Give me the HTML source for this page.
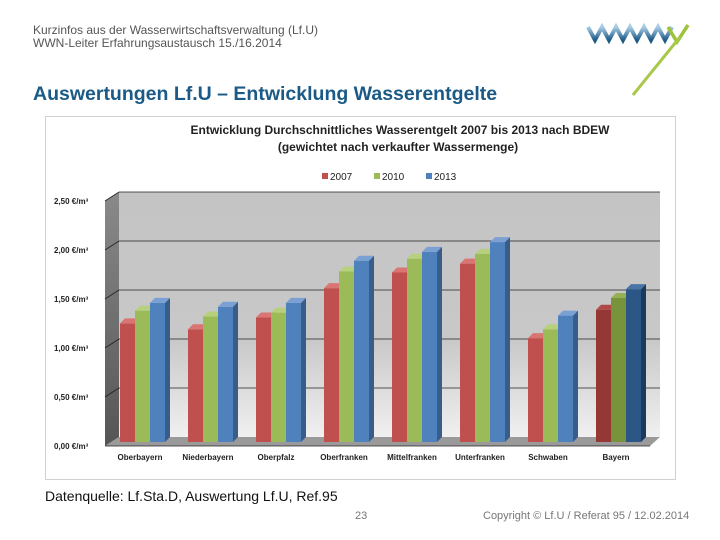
<!DOCTYPE html>
<html><head><meta charset="utf-8"><style>
body{margin:0;width:720px;height:540px;background:#fff;font-family:"Liberation Sans",sans-serif;overflow:hidden;position:relative}
.t{position:absolute;white-space:nowrap}
</style></head><body>
<div class="t" style="left:33px;top:24px;font-size:12px;color:#555;line-height:13px">Kurzinfos aus der Wasserwirtschaftsverwaltung (Lf.U)<br>WWN-Leiter Erfahrungsaustausch 15./16.2014</div>
<div class="t" style="left:33px;top:83px;font-size:19.5px;font-weight:bold;color:#1b5a86">Auswertungen Lf.U – Entwicklung Wasserentgelte</div>
<svg style="position:absolute;left:580px;top:15px" width="120" height="85">
<defs><linearGradient id="lg" x1="0" y1="0" x2="0" y2="1"><stop offset="0" stop-color="#a9cde6"/><stop offset="1" stop-color="#1e5a86"/></linearGradient></defs>
<polyline points="8,12 15,25 22,12 29,25 36,12 43,25 50,12 57,25 64,12 71,25 78,12 85,25 92,12" fill="none" stroke="url(#lg)" stroke-width="4"/>
<polyline points="88,12 97,27 108,10" fill="none" stroke="#9dc23c" stroke-width="3.5"/>
<line x1="100" y1="22" x2="53" y2="80" stroke="#a8c84a" stroke-width="3"/>
</svg>
<div style="position:absolute;left:45px;top:116px;width:629px;height:362px;border:1px solid #d0d0d0"></div>
<svg id="chart" style="position:absolute;left:0;top:0" width="720" height="540">
<defs>
<linearGradient id="wall" x1="0" y1="0" x2="0" y2="1"><stop offset="0" stop-color="#c4c4c4"/><stop offset="0.6" stop-color="#c8c8c8"/><stop offset="1" stop-color="#f0f0f0"/></linearGradient>
<linearGradient id="side" x1="0" y1="0" x2="0" y2="1"><stop offset="0" stop-color="#8a8a8a"/><stop offset="1" stop-color="#555"/></linearGradient>
</defs>
<text x="400" y="134" text-anchor="middle" font-size="12" font-weight="bold" fill="#222">Entwicklung Durchschnittliches Wasserentgelt 2007 bis 2013 nach BDEW</text>
<text x="398" y="151" text-anchor="middle" font-size="12" font-weight="bold" fill="#222">(gewichtet nach verkaufter Wassermenge)</text>
<g id="legend"></g>
<g id="plot"></g>
</svg>
<div class="t" style="left:45px;top:488px;font-size:14px;color:#111">Datenquelle: Lf.Sta.D, Auswertung Lf.U, Ref.95</div>
<div class="t" style="left:355px;top:510px;font-size:11px;color:#777">23</div>
<div class="t" style="left:483px;top:510px;font-size:11px;color:#777">Copyright © Lf.U / Referat 95 / 12.02.2014</div>
<script>
const categories=["Oberbayern","Niederbayern","Oberpfalz","Oberfranken","Mittelfranken","Unterfranken","Schwaben","Bayern"];
const series=["2007","2010","2013"];
const v2007=[1.21,1.15,1.27,1.57,1.73,1.82,1.06,1.35];
const v2010=[1.34,1.28,1.32,1.74,1.87,1.92,1.15,1.47];
const v2013=[1.42,1.38,1.42,1.85,1.94,2.04,1.29,1.56];
const ticks=[0,0.5,1,1.5,2,2.5];
const tickLabels=["0,00 €/m³","0,50 €/m³","1,00 €/m³","1,50 €/m³","2,00 €/m³","2,50 €/m³"];
const NS="http://www.w3.org/2000/svg";
const plot=document.getElementById('plot'),leg=document.getElementById('legend');
function mk(tag,a,p){const e=document.createElementNS(NS,tag);for(const k in a)e.setAttribute(k,a[k]);(p||plot).appendChild(e);return e;}
const y0=442,sc=98,bx0=119,bx1=660,by0=437;
function yF(v){return y0-v*sc;}
function yB(v){return by0-v*sc;}
function gx(i){return 120+i*68;}
let w=mk('rect',{x:bx0,y:yB(2.5),width:bx1-bx0,height:by0-yB(2.5),fill:'url(#wall)'});

let s=mk('polygon',{points:`105,${yF(2.5)+4} ${bx0},${yB(2.5)} ${bx0},${by0} 105,446`,fill:'url(#side)'});

let f=mk('polygon',{points:`105,446 ${bx0},${by0} ${bx1},${by0} 650,446`,fill:'#9a9a9a'});

ticks.forEach((t,i)=>{
 if(t>0){const l=mk('line',{x1:bx0,y1:yB(t),x2:bx1,y2:yB(t),stroke:'#222','stroke-width':0.8});
 
 const l2=mk('line',{x1:105,y1:yB(t)+9,x2:bx0,y2:yB(t),stroke:'#222','stroke-width':0.8});
 }
 const tx=mk('text',{x:54,y:yB(t)+12,'font-size':8,'font-weight':'bold',fill:'#222'});
 tx.textContent=tickLabels[i];
 
});
const ax=mk('line',{x1:105,y1:446,x2:650,y2:446,stroke:'#222','stroke-width':0.8});

const cols=[["#c0504d","#d97572","#8c3836"],["#9bbb59","#b6d07e","#71893f"],["#4f81bd","#7aa0d4","#385d8a"]];
const colsB=[["#953735","#b04a47","#6a2524"],["#77933c","#95b055","#566b2a"],["#2c5685","#4a74a6","#1c3a5c"]];
const vals=[v2007,v2010,v2013];
const bw=15,d=5;
categories.forEach((c,i)=>{
 vals.forEach((arr,k)=>{
  const cs=(i===categories.length-1?colsB:cols)[k];
  const x=gx(i)+k*bw,yt=yF(arr[i]);
  const g=mk('g',{});
  
  
  mk('polygon',{points:`${x+bw},${yt} ${x+bw+d},${yt-d} ${x+bw+d},${y0-d} ${x+bw},${y0}`,fill:cs[2]},g);
  mk('rect',{x:x,y:yt,width:bw,height:y0-yt,fill:cs[0]},g);
  mk('polygon',{points:`${x},${yt} ${x+d},${yt-d} ${x+bw+d},${yt-d} ${x+bw},${yt}`,fill:cs[1]},g);
 });
 const t=mk('text',{x:gx(i)+20,y:460,'text-anchor':'middle','font-size':8,'font-weight':'bold',fill:'#222'});
 t.textContent=c;
 
 
});
series.forEach((sn,k)=>{
 const x=322+k*52;
 const g=mk('g',{},leg);
 
 
 mk('rect',{x:x,y:173,width:6,height:6,fill:cols[k][0]},g);
 const t=mk('text',{x:x+8,y:180,'font-size':10,fill:'#222'},g);t.textContent=sn;
});
</script>
</body></html>
